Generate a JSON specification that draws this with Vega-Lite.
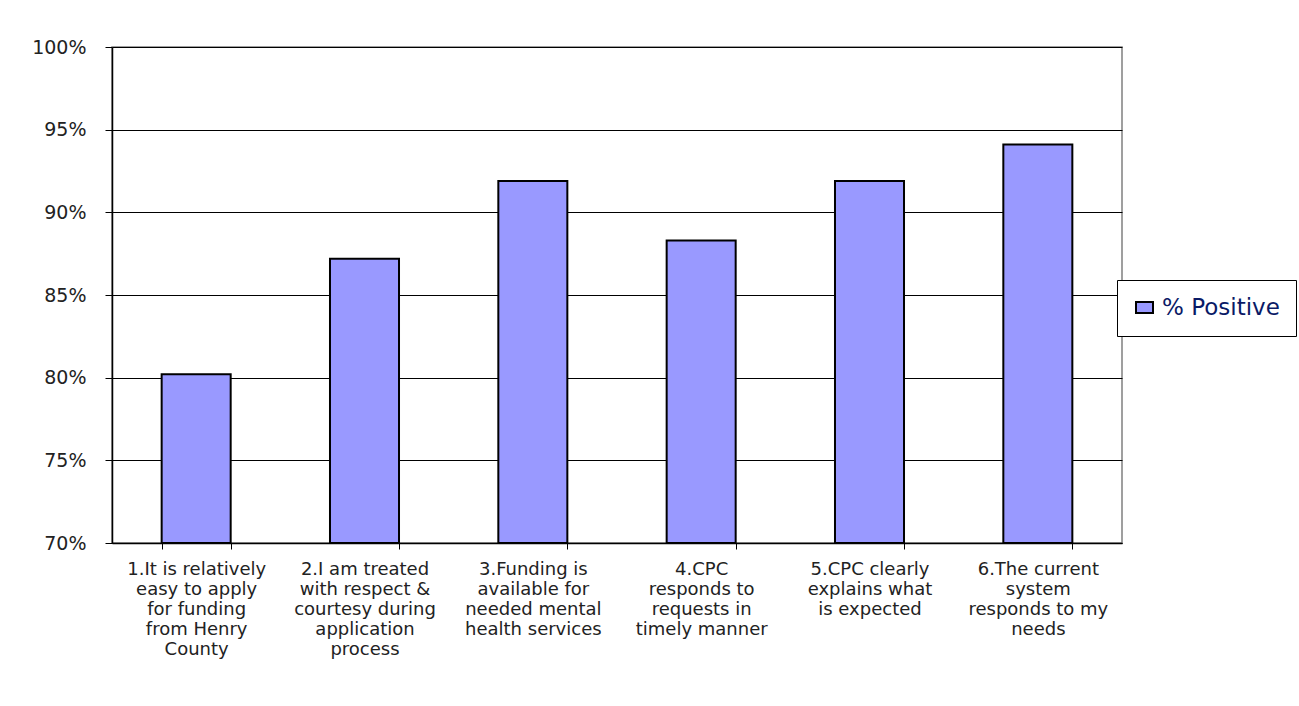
{
  "$schema": "https://vega.github.io/schema/vega-lite/v6.json",
  "width": 1010,
  "height": 496,
  "autosize": {"type": "none"},
  "padding": {"left": 112, "top": 47, "right": 177, "bottom": 163},
  "background": "white",
  "config": {
    "font": "DejaVu Sans",
    "view": {"stroke": "#808080", "strokeWidth": 1.5}
  },
  "data": {
    "values": [
      {"item": "1.It is relatively|easy to apply|for funding|from Henry|County", "positive": 0.802, "series": "% Positive"},
      {"item": "2.I am treated|with respect &|courtesy during|application|process", "positive": 0.872, "series": "% Positive"},
      {"item": "3.Funding is|available for|needed mental|health services", "positive": 0.919, "series": "% Positive"},
      {"item": "4.CPC|responds to|requests in|timely manner", "positive": 0.883, "series": "% Positive"},
      {"item": "5.CPC clearly|explains what|is expected", "positive": 0.919, "series": "% Positive"},
      {"item": "6.The current|system|responds to my|needs", "positive": 0.941, "series": "% Positive"}
    ]
  },
  "mark": {"type": "bar", "stroke": "black", "strokeWidth": 2},
  "encoding": {
    "x": {
      "field": "item",
      "type": "nominal",
      "sort": null,
      "scale": {"paddingInner": 0.59, "paddingOuter": 0.295},
      "axis": {
        "title": null,
        "labelAngle": 0,
        "labelExpr": "isValid(datum.value) ? split(datum.value, '|') : ''",
        "labelFont": "DejaVu Sans",
        "labelFontSize": 18,
        "labelLineHeight": 20,
        "labelColor": "#222222",
        "labelPadding": 11,
        "labelLimit": 0,
        "tickBand": "extent",
        "tickSize": 6,
        "tickColor": "black",
        "domainColor": "black",
        "domainWidth": 1.5,
        "grid": false
      }
    },
    "y": {
      "field": "positive",
      "type": "quantitative",
      "scale": {"domain": [0.7, 1.0], "zero": false, "nice": false},
      "axis": {
        "title": null,
        "values": [0.7, 0.75, 0.8, 0.85, 0.9, 0.95, 1.0],
        "format": ".0%",
        "labelFont": "DejaVu Sans",
        "labelFontSize": 19,
        "labelColor": "#222222",
        "labelPadding": 19,
        "tickSize": 7,
        "tickColor": "black",
        "domainColor": "black",
        "domainWidth": 1.5,
        "grid": true,
        "gridColor": "black",
        "gridWidth": 1
      }
    },
    "y2": {"datum": 0.7},
    "fill": {
      "field": "series",
      "type": "nominal",
      "scale": {"range": ["#9999FF"]},
      "legend": {
        "title": null,
        "orient": "none",
        "legendX": 1005,
        "legendY": 233,
        "padding": 16,
        "fillColor": "white",
        "strokeColor": "black",
        "symbolType": "M-1,-0.65H1V0.65H-1Z",
        "symbolSize": 289,
        "symbolStrokeColor": "black",
        "symbolStrokeWidth": 2,
        "labelFont": "DejaVu Sans",
        "labelFontSize": 23,
        "labelColor": "#0A1A66",
        "labelLimit": 0,
        "labelOffset": 6
      }
    }
  }
}
